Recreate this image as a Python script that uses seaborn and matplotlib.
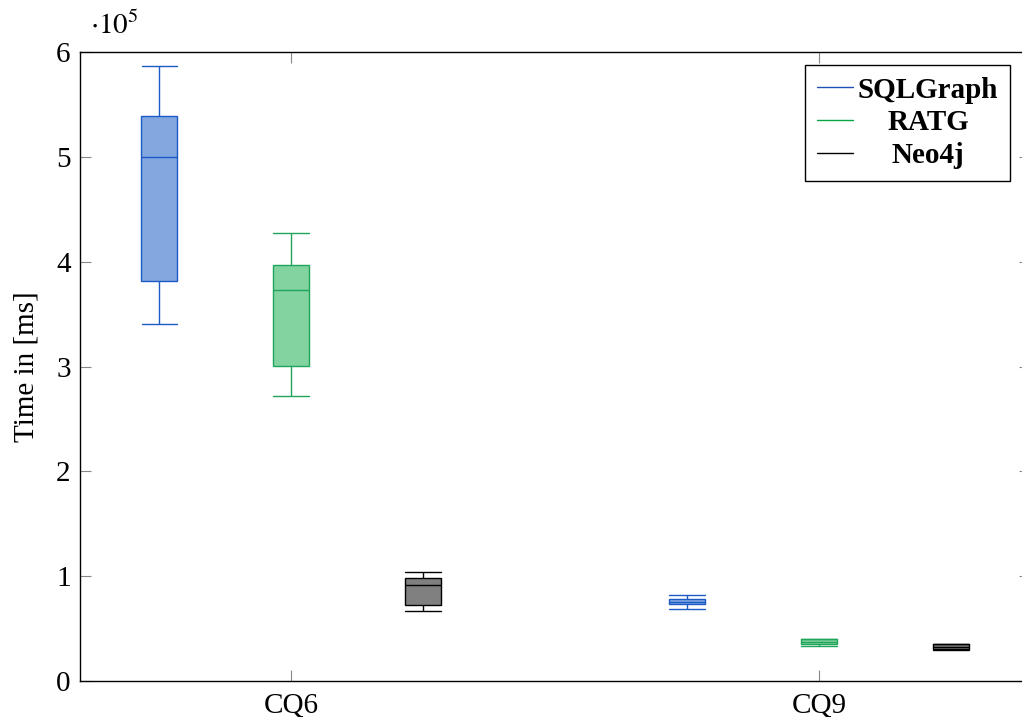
import numpy as np
import pandas as pd
import matplotlib
matplotlib.use("Agg")
import matplotlib.pyplot as plt
from matplotlib.lines import Line2D
from matplotlib.ticker import FixedLocator, FuncFormatter
from matplotlib.font_manager import FontProperties
import seaborn as sns

# ---------------- data (ms) ----------------
queries = ["CQ6", "CQ9"]
systems = ["SQLGraph", "RATG", "Neo4j"]

# five-number summaries per system, ordered as queries (CQ6, CQ9)
whisker_low = {"SQLGraph": [341000, 68300], "RATG": [272000, 33000], "Neo4j": [67000, 29800]}
q1 = {"SQLGraph": [381600, 73100], "RATG": [300700, 35200], "Neo4j": [72100, 30100]}
median = {"SQLGraph": [500000, 75600], "RATG": [373000, 37400], "Neo4j": [91500, 32800]}
q3 = {"SQLGraph": [539000, 78100], "RATG": [397000, 39800], "Neo4j": [98500, 35400]}
whisker_high = {"SQLGraph": [587000, 81700], "RATG": [428000, 40000], "Neo4j": [103900, 35700]}

yticks = [0, 100000, 200000, 300000, 400000, 500000, 600000]

edge_colors = {"SQLGraph": "#1c5ac6", "RATG": "#1ea55a", "Neo4j": "#000000"}
fill_colors = {"SQLGraph": "#82a8df", "RATG": "#83d3a1", "Neo4j": "#808080"}
legend_colors = {"SQLGraph": "#1f4fb4", "RATG": "#05a543", "Neo4j": "#000000"}

# build a table whose quartiles reproduce the summaries exactly
rows = []
for s in systems:
    for i, q in enumerate(queries):
        for v in (whisker_low[s][i], q1[s][i], median[s][i], q3[s][i], whisker_high[s][i]):
            rows.append({"system": s, "query": q, "time": v})
df = pd.DataFrame(rows)

# ---------------- style ----------------
sns.set_style("white")
plt.rcParams["font.family"] = ["Liberation Serif", "DejaVu Serif"]
plt.rcParams["mathtext.fontset"] = "stix"
plt.rcParams["text.color"] = "black"
plt.rcParams["axes.labelcolor"] = "black"
plt.rcParams["xtick.color"] = "black"
plt.rcParams["ytick.color"] = "black"

W, H = 1022, 717
fig = plt.figure(figsize=(W / 100, H / 100), dpi=100)
ax_left, ax_right, ax_top, ax_bottom = 80.3, 1030.2, 52.3, 681.0
ax = fig.add_axes([ax_left / W, 1 - ax_bottom / H, (ax_right - ax_left) / W, (ax_bottom - ax_top) / H])

for s in systems:
    sub = df[df["system"] == s]
    sns.boxplot(
        data=sub, x="query", y="time", hue="system",
        order=queries, hue_order=systems,
        palette=fill_colors, saturation=1, linecolor=edge_colors[s], linewidth=1.0,
        width=0.75, gap=0.727, dodge=True, whis=(0, 100), fliersize=0,
        legend=False, ax=ax, capwidths=0.068,
    )

ax.set_xlim(-0.4, 1.4)
ax.set_ylim(0, 600000)
ax.yaxis.set_major_locator(FixedLocator(yticks))
ax.yaxis.set_major_formatter(FuncFormatter(lambda v, p: f"{v / 1e5:g}"))
ax.set_xlabel("")
ax.set_ylabel("Time in [ms]", fontsize=21, labelpad=12, color="black")
ax.grid(False)

for sp in ax.spines.values():
    sp.set_color("black")
    sp.set_linewidth(1.0)
    sp.set_visible(True)

ax.tick_params(axis="both", which="major", direction="in", length=8, width=0.8,
               color="#888888", labelcolor="black", top=True, right=True,
               bottom=True, left=True, labelsize=21)
ax.tick_params(axis="y", pad=7)
ax.tick_params(axis="x", pad=8)

fig.text(90 / W, 1 - 34 / H, r"$\cdot10^{5}$", fontsize=21, ha="left", va="baseline",
         color="black")

handles = [Line2D([], [], color=legend_colors[s], lw=1.0) for s in systems]
leg = ax.legend(
    handles, systems, loc="upper right",
    bbox_to_anchor=(1010 / W, 1 - 65 / H), bbox_transform=fig.transFigure,
    borderaxespad=0, frameon=True, fancybox=False, framealpha=1,
    edgecolor="black", handlelength=1.23, handletextpad=0.17, labelspacing=0.2,
    borderpad=0.4, prop=FontProperties(family="Liberation Serif", weight="bold", size=21),
)
leg.get_frame().set_linewidth(1.0)
for t in leg.get_texts():
    t.set_color("black")

# centre the legend texts within their column
fig.canvas.draw()
renderer = fig.canvas.get_renderer()
widths = [t.get_window_extent(renderer).width for t in leg.get_texts()]
maxw = max(widths)
p2p = renderer.points_to_pixels(1.0)
try:
    column = leg._legend_handle_box.get_children()[0]
    for row, w in zip(column.get_children(), widths):
        row.sep = row.sep + (maxw - w) / 2 / p2p
except Exception:
    pass

fig.savefig("out.png", dpi=100)
